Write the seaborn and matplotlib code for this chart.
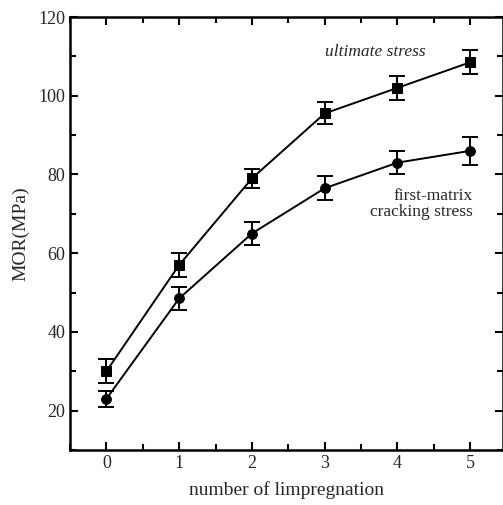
import matplotlib
matplotlib.use("Agg")
import matplotlib.pyplot as plt
import seaborn as sns
import pandas as pd
from matplotlib.ticker import MultipleLocator

impregnations = [0, 1, 2, 3, 4, 5]
ultimate = [30, 57, 79, 95.5, 102, 108.5]
ultimate_err = [3, 3, 2.5, 2.8, 3, 3]
first_matrix = [23, 48.5, 65, 76.5, 83, 86]
first_matrix_err = [2, 3, 3, 3, 3, 3.5]

df = pd.DataFrame({
    "n": impregnations * 2,
    "MOR": ultimate + first_matrix,
    "err": ultimate_err + first_matrix_err,
    "series": ["ultimate stress"] * 6 + ["first-matrix cracking stress"] * 6,
})

sns.set_style("ticks")
plt.rcParams["font.family"] = ["Liberation Serif", "DejaVu Serif"]

fig = plt.figure(figsize=(5.03, 5.05), dpi=100)
ax = fig.add_axes([70 / 503, 1 - 450 / 505, 433 / 503, 433 / 505])

sns.lineplot(data=df, x="n", y="MOR", hue="series", style="series",
             markers={"ultimate stress": "s", "first-matrix cracking stress": "o"},
             dashes=False, palette=["black", "black"], markersize=7,
             markeredgecolor="black", linewidth=1.4, legend=False, ax=ax)
for s, d in df.groupby("series"):
    ax.errorbar(d["n"], d["MOR"], yerr=d["err"], fmt="none", ecolor="black",
                elinewidth=1.4, capsize=6, capthick=1.4)

ax.set_xlim(-0.5, 5.45)
ax.set_ylim(10, 120)
ax.xaxis.set_major_locator(MultipleLocator(1))
ax.xaxis.set_minor_locator(MultipleLocator(0.5))
ax.yaxis.set_minor_locator(MultipleLocator(10))
ax.set_yticks([20, 40, 60, 80, 100, 120])
ax.tick_params(which="both", direction="in", top=True, right=True, width=1.5,
               labelsize=13, color="black")
ax.tick_params(which="major", length=6)
ax.tick_params(which="minor", length=4)
for sp in ax.spines.values():
    sp.set_linewidth(1.8)
    sp.set_color("black")

ax.set_xlabel("number of limpregnation", fontsize=14, labelpad=7)
ax.set_ylabel("MOR(MPa)", fontsize=14, labelpad=6)

ax.text(3.7, 111, "ultimate stress", fontsize=12.5, style="italic", ha="center", va="center")
ax.text(5.04, 74.5, "first-matrix", fontsize=12.5, ha="right", va="center")
ax.text(5.04, 70.5, "cracking stress", fontsize=12.5, ha="right", va="center")

fig.savefig("out.png", dpi=100)
